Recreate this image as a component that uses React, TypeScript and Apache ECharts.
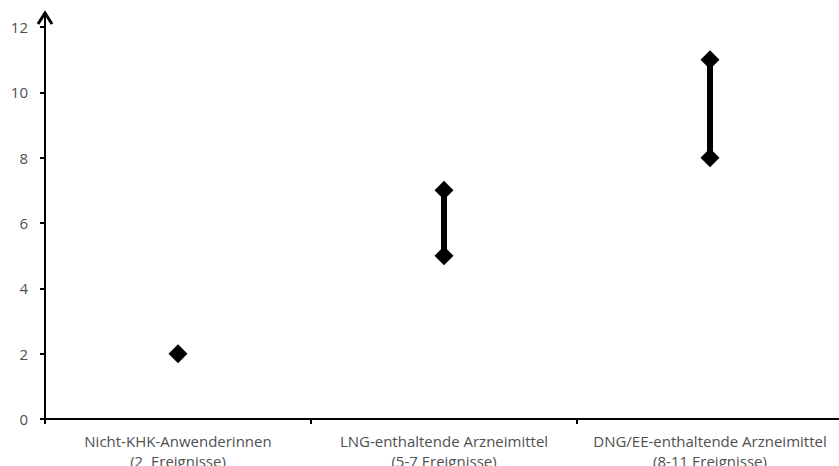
import React, { useEffect, useRef } from "react";
import * as echarts from "echarts";

const categories = [
  "Nicht-KHK-Anwenderinnen\n(2  Ereignisse)",
  "LNG-enthaltende Arzneimittel\n(5-7 Ereignisse)",
  "DNG/EE-enthaltende Arzneimittel\n(8-11 Ereignisse)",
];
const lowValues = [2, 5, 8];
const highValues = [2, 7, 11];
const yTicks = { min: 0, max: 12, interval: 2 };

const FONT = "'Open Sans', sans-serif";
const TEXT = "#505050";

export default function App() {
  const ref = useRef<HTMLDivElement>(null);
  useEffect(() => {
    if (!ref.current) return;
    const chart = echarts.init(ref.current, undefined, { renderer: "svg" });
    const points: [number, number][] = [];
    categories.forEach((_, i) => {
      points.push([i, lowValues[i]]);
      if (highValues[i] !== lowValues[i]) points.push([i, highValues[i]]);
    });
    const ranges = categories.map((_, i) => [i, lowValues[i], highValues[i]]);
    chart.setOption({
      animation: false,
      grid: { left: 45, top: 27, bottom: 47, width: 798, outerBoundsMode: "none", containLabel: false },
      xAxis: {
        type: "category",
        data: categories,
        boundaryGap: true,
        axisLine: { lineStyle: { color: "#000", width: 2, opacity: 1 } },
        axisTick: { show: true, length: 5, lineStyle: { color: "#000", width: 2 } },
        axisLabel: {
          color: TEXT,
          fontFamily: FONT,
          fontSize: 15,
          lineHeight: 20,
          margin: 12,
          interval: 0,
        },
        splitLine: { show: false },
      },
      yAxis: {
        type: "value",
        min: yTicks.min,
        max: yTicks.max,
        interval: yTicks.interval,
        axisLine: { show: true, lineStyle: { color: "#000", width: 2 } },
        axisTick: { show: true, length: 5, lineStyle: { color: "#000", width: 2 } },
        axisLabel: { color: TEXT, fontFamily: FONT, fontSize: 15, margin: 17 },
        splitLine: { show: false },
      },
      series: [
        {
          type: "custom",
          data: ranges,
          renderItem: (params: any, api: any) => {
            const x = api.value(0);
            const lo = api.coord([x, api.value(1)]);
            const hi = api.coord([x, api.value(2)]);
            return {
              type: "line",
              shape: { x1: lo[0], y1: lo[1], x2: hi[0], y2: hi[1] },
              style: { stroke: "#000", lineWidth: 6 },
            };
          },
          z: 2,
        },
        {
          type: "scatter",
          data: points,
          symbol: "diamond",
          symbolSize: 19,
          itemStyle: { color: "#000", opacity: 1 },
          emphasis: { disabled: true },
          z: 3,
        },
      ],
    });
    const top = chart.convertToPixel({ gridIndex: 0 }, [0, yTicks.max]) as number[];
    const ax = 45;
    const tipY = top[1] - 15;
    chart.setOption({
      graphic: [
        {
          type: "line",
          shape: { x1: ax, y1: top[1], x2: ax, y2: tipY + 1 },
          style: { stroke: "#000", lineWidth: 2 },
        },
        {
          type: "polyline",
          shape: { points: [[ax - 7, tipY + 12], [ax, tipY + 1], [ax + 7, tipY + 12]] },
          style: { stroke: "#000", lineWidth: 3, fill: "none" },
        },
      ],
    });
    return () => chart.dispose();
  }, []);
  return <div ref={ref} style={{ width: 839, height: 466, position: "absolute", left: 0, top: 0 }} />;
}
